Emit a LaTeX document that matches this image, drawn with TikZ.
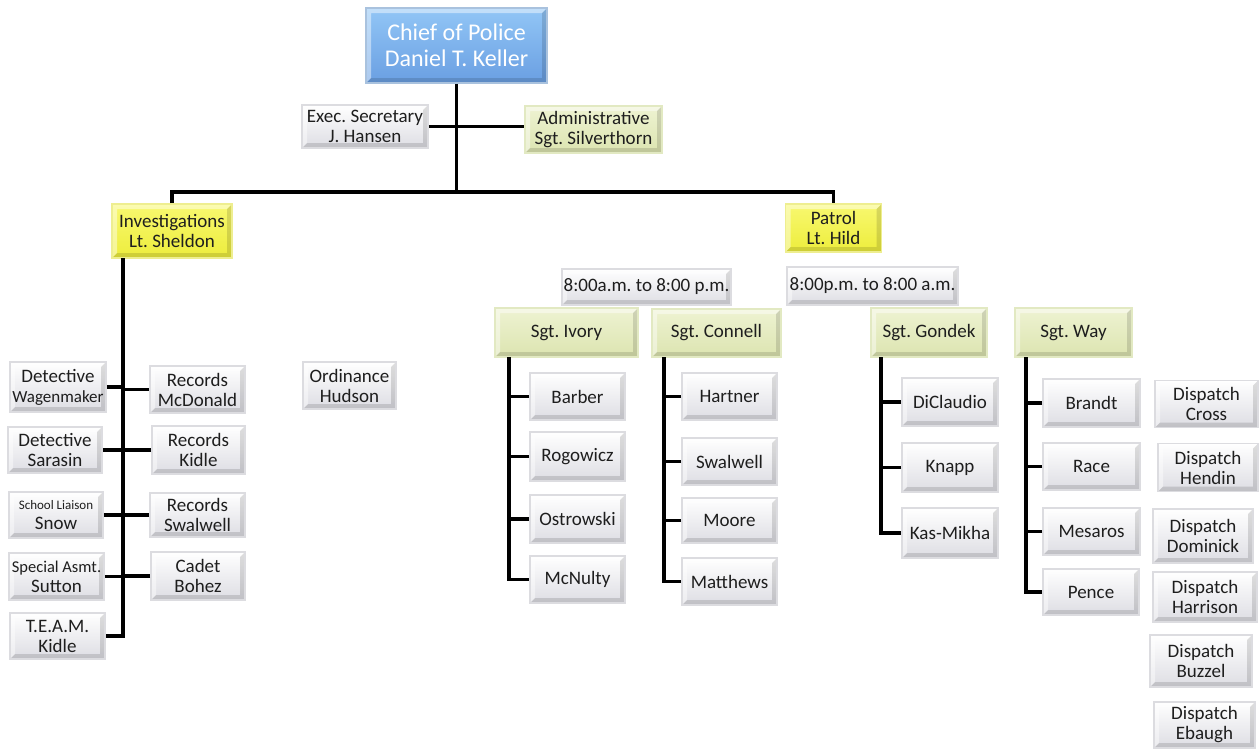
\documentclass[tikz,border=0pt]{standalone}
\usepackage{fontspec}
\setmainfont{Carlito}
\frenchspacing
\newcommand{\fsz}[2]{\fontsize{#1}{#2}\selectfont}
\definecolor{chiefA}{HTML}{92C6F6}
\definecolor{chiefB}{HTML}{6A9FE2}
\definecolor{chiefD}{HTML}{A9C2DE}
\definecolor{yelA}{HTML}{F8F870}
\definecolor{yelB}{HTML}{EDED3C}
\definecolor{yelD}{HTML}{EEEE90}
\definecolor{grnA}{HTML}{EEF3D2}
\definecolor{grnB}{HTML}{DCE4B0}
\definecolor{grnD}{HTML}{E2E9C2}
\definecolor{gryA}{HTML}{FFFFFF}
\definecolor{gryB}{HTML}{DDDDE3}
\definecolor{gryD}{HTML}{DCDCE0}
\definecolor{txt}{HTML}{1E1E1E}
\newcommand{\bevelpp}{%
 \fill[white,opacity=.45] (path picture bounding box.south west) -- ([shift={(5pt,5pt)}]path picture bounding box.south west) -- ([shift={(5pt,-5pt)}]path picture bounding box.north west) -- ([shift={(-5pt,-5pt)}]path picture bounding box.north east) -- (path picture bounding box.north east) -- (path picture bounding box.north west) -- cycle;
 \fill[black,opacity=.13] (path picture bounding box.south west) -- ([shift={(5pt,5pt)}]path picture bounding box.south west) -- ([shift={(-5pt,5pt)}]path picture bounding box.south east) -- ([shift={(-5pt,-5pt)}]path picture bounding box.north east) -- (path picture bounding box.north east) -- (path picture bounding box.south east) -- cycle;
}
\tikzset{
 conn/.style={line width=3.8pt, black},
 bx/.style={rectangle, inner sep=0pt, align=center, text=txt, font=\fsz{19}{20},
   line width=1.6pt, path picture={\bevelpp}},
 gbox/.style={bx, draw=gryD, top color=gryA, bottom color=gryB},
 ybox/.style={bx, draw=yelD, top color=yelA, bottom color=yelB},
 lbox/.style={bx, draw=grnD, top color=grnA, bottom color=grnB},
 cbox/.style={bx, draw=chiefD, top color=chiefA, bottom color=chiefB, text=white, font=\fsz{24}{26}},
 sz/.style 2 args={minimum width=#1pt, minimum height=#2pt},
}
\begin{document}
\begin{tikzpicture}[x=1pt,y=-1pt]
\useasboundingbox[fill=white] (0,0) rectangle (1260,748);
% top
\node[cbox, sz={181}{75}] (chief) at (456.5,45.5) {Chief of Police\\Daniel T. Keller};
\node[gbox, sz={126}{43}] (sec) at (365,126.5) {Exec. Secretary\\J. Hansen};
\node[lbox, sz={137}{47}] (admin) at (593.5,129.5) {Administrative\\Sgt. Silverthorn};
\node[ybox, sz={120}{54}] (inv) at (172,231) {Investigations\\Lt. Sheldon};
\node[ybox, sz={96}{48}] (patrol) at (833.5,228) {Patrol\\Lt. Hild};
\coordinate (bus) at (456.5,192);
% investigations
\node[gbox, sz={96}{50}] (det1) at (58,387) {Detective\\{\fsz{17}{20}Wagenmaker}};
\node[gbox, sz={95}{47}] (rec1) at (197.5,389.5) {Records\\McDonald};
\node[gbox, sz={94}{46}] (det2) at (55,450) {Detective\\Sarasin};
\node[gbox, sz={93}{48}] (rec2) at (198.5,450) {Records\\Kidle};
\node[gbox, sz={94}{46}] (snow) at (56,515) {{\fsz{13}{18}School Liaison}\\Snow};
\node[gbox, sz={95}{44}] (rec3) at (197.5,515) {Records\\Swalwell};
\node[gbox, sz={95}{47}] (sutton) at (56.5,576.5) {{\fsz{16.5}{19}Special Asmt.}\\Sutton};
\node[gbox, sz={94}{48}] (cadet) at (198,576) {Cadet\\Bohez};
\node[gbox, sz={95}{46}] (team) at (57.5,636) {T.E.A.M.\\Kidle};
\node[gbox, sz={93}{47}] (ord) at (349.5,385.5) {Ordinance\\Hudson};
\coordinate (invtrunk) at (123,258);
% day shift
\node[gbox, sz={169}{36}] (time1) at (646.5,287) {8:00a.m. to 8:00 p.m.};
\node[lbox, sz={143}{49}] (ivory) at (566.5,332.5) {Sgt. Ivory};
\node[lbox, sz={129}{48}] (connell) at (716.5,333) {Sgt. Connell};
\node[gbox, sz={95}{47}] (barber) at (577.5,396.5) {Barber};
\node[gbox, sz={95}{49}] (rogowicz) at (577.5,456.5) {Rogowicz};
\node[gbox, sz={95}{48}] (ostrowski) at (577.5,519) {Ostrowski};
\node[gbox, sz={95}{47}] (mcnulty) at (577.5,579.5) {McNulty};
\node[gbox, sz={95}{47}] (hartner) at (729.5,396.5) {Hartner};
\node[gbox, sz={95}{47}] (swalwell) at (729.5,461.5) {Swalwell};
\node[gbox, sz={95}{45}] (moore) at (729.5,520.5) {Moore};
\node[gbox, sz={95}{47}] (matthews) at (729.5,581.5) {Matthews};
\coordinate (ivt) at (509,357);
\coordinate (cnt) at (664,357);
% night shift
\node[gbox, sz={171}{38}] (time2) at (872.5,286) {8:00p.m. to 8:00 a.m.};
\node[lbox, sz={116}{49}] (gondek) at (929,332.5) {Sgt. Gondek};
\node[lbox, sz={117}{49}] (way) at (1073.5,332.5) {Sgt. Way};
\node[gbox, sz={96}{48}] (diclaudio) at (950,402) {DiClaudio};
\node[gbox, sz={96}{49}] (knapp) at (950,467.5) {Knapp};
\node[gbox, sz={96}{50}] (kasmikha) at (950,533) {Kas-Mikha};
\node[gbox, sz={97}{48}] (brandt) at (1091.5,403) {Brandt};
\node[gbox, sz={97}{47}] (race) at (1091.5,466.5) {Race};
\node[gbox, sz={97}{47}] (mesaros) at (1091.5,531.5) {Mesaros};
\node[gbox, sz={96}{46}] (pence) at (1091,592) {Pence};
\coordinate (gdt) at (881,357);
\coordinate (wyt) at (1026,357);
% dispatch
\node[gbox, sz={103}{47}] (cross) at (1206.5,404) {Dispatch\\Cross};
\node[gbox, sz={100}{48}] (hendin) at (1208,467.5) {Dispatch\\Hendin};
\node[gbox, sz={100}{54}] (dominick) at (1203,536) {Dispatch\\Dominick};
\node[gbox, sz={104}{50}] (harrison) at (1205,597) {Dispatch\\Harrison};
\node[gbox, sz={102}{52}] (buzzel) at (1201,661) {Dispatch\\Buzzel};
\node[gbox, sz={101}{46}] (ebaugh) at (1204.5,725) {Dispatch\\Ebaugh};
% connectors: top
\draw[conn] (chief.south) -- (bus);
\draw[conn] (inv.north) |- (bus) -| (patrol.north);
\draw[conn] (sec.east) -- (admin.west |- sec.east);
% investigations
\draw[conn] (invtrunk) |- (team.east);
\foreach \n in {det1,det2,snow,sutton} \draw[conn] (\n.east) -- (\n.east -| invtrunk);
\foreach \n in {rec1,rec2,rec3,cadet} \draw[conn] (\n.west) -- (\n.west -| invtrunk);
% sgt columns
\draw[conn] (ivt) |- (mcnulty.west);
\foreach \n in {barber,rogowicz,ostrowski} \draw[conn] (\n.west) -- (\n.west -| ivt);
\draw[conn] (cnt) |- (matthews.west);
\foreach \n in {hartner,swalwell,moore} \draw[conn] (\n.west) -- (\n.west -| cnt);
\draw[conn] (gdt) |- (kasmikha.west);
\foreach \n in {diclaudio,knapp} \draw[conn] (\n.west) -- (\n.west -| gdt);
\draw[conn] (wyt) |- (pence.west);
\foreach \n in {brandt,race,mesaros} \draw[conn] (\n.west) -- (\n.west -| wyt);
\end{tikzpicture}
\end{document}
